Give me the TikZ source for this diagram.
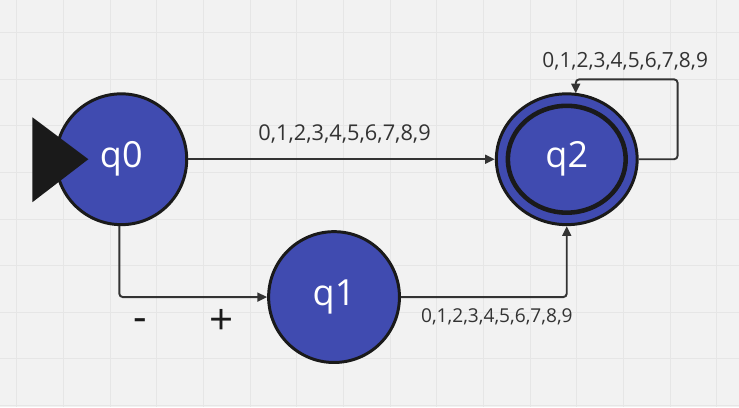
\documentclass[tikz,border=0pt]{standalone}
\usepackage{fontspec}
\setmainfont{Open Sans}
\usetikzlibrary{shapes.geometric,arrows.meta,calc}

\definecolor{statefill}{RGB}{64,75,176}
\definecolor{stateline}{RGB}{26,26,26}
\definecolor{edgeline}{RGB}{51,51,51}
\definecolor{paper}{RGB}{242,242,242}
\definecolor{gridline}{RGB}{230,230,230}

\tikzset{
  state/.style={circle, draw=stateline, fill=statefill, line width=1.7pt,
    minimum size=2.62cm, inner sep=0pt, text=white, font=\fontsize{20.5}{24}\selectfont},
  final/.style={state, ellipse, minimum width=2.82cm, minimum height=2.62cm},
  edge/.style={draw=edgeline, line width=1.1pt, rounded corners=2pt,
    -{Triangle[length=5.5pt,width=5pt]}},
  digits/.style={text=edgeline, inner sep=0pt},
  sign/.style={text=stateline, font=\fontsize{24}{28}\selectfont, inner sep=0pt}
}

\begin{document}
\begin{tikzpicture}[x=0.02cm, y=-0.02cm]
    % paper and grid
    \fill[paper] (0,0) rectangle (739,407);
    \foreach \gx in {0,...,15}
        \draw[gridline, line width=0.5pt] (16.5+46.7*\gx,0) -- (16.5+46.7*\gx,407);%
    \foreach \gy in {0,...,8}
        \draw[gridline, line width=0.5pt] (0,32+46.7*\gy) -- (739,32+46.7*\gy);%
    \useasboundingbox (0,0) rectangle (739,407);

    % Marking states
    \node[state] (q0) at (121,159) {q0};%
    \node[state] (q1) at (334,297) {q1};%
    \node[final] (q2) at (567,159) {q2};%

    % Inner ring of the final state q2
    \draw[stateline, line width=2.6pt] (q2.center) ellipse [x radius=59, y radius=53.5];%

    % Start marker at q0
    \fill[stateline] (32,117) -- (88,159) -- (32,202) -- cycle;%

    % Drawing edge q0 q2
    \draw[edge] (q0) -- (q2) node[digits, midway, xshift=0.06cm, yshift=0.5cm,
        font=\fontsize{12.4}{14}\selectfont] {0,1,2,3,4,5,6,7,8,9};%

    % Drawing edge q0 q1
    \draw[edge] ($(q0.south)+(-2,0)$) |- (q1.west);%
    \node[sign] (minus) at (140,325) {-};%
    \node[sign] (plus) at (221,322) {+};%

    % Drawing edge q1 q2
    \draw[edge] (q1.east) -| (q2.south);%
    \node[digits, font=\fontsize{10.9}{13}\selectfont] (lbl12) at (497,317) {0,1,2,3,4,5,6,7,8,9};%

    % Drawing loop q2
    \coordinate (loopend) at ($(q2.north)+(9,1)$);%
    \draw[edge] (q2.east) -- ++(39,0) |- ($(loopend)+(0,-14)$) -- (loopend);%
    \node[digits, font=\fontsize{11.9}{14}\selectfont] (lbl22) at (625.5,61) {0,1,2,3,4,5,6,7,8,9};%
\end{tikzpicture}
\end{document}
